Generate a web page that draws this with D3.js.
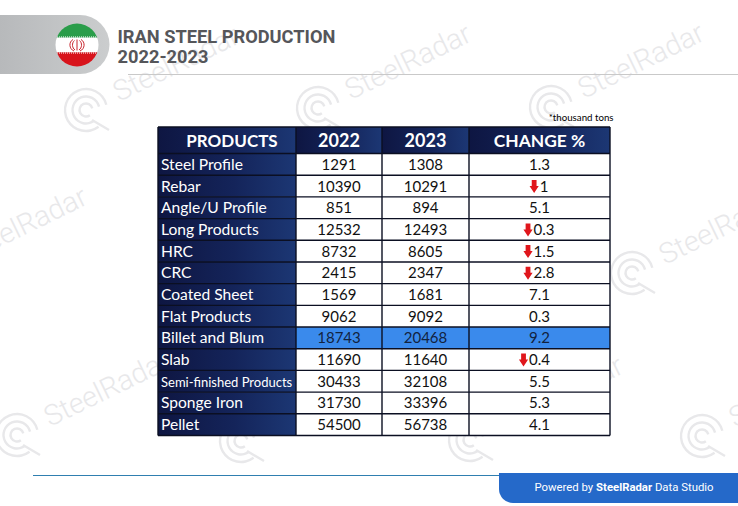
<!DOCTYPE html>
<html>
<head>
<meta charset="utf-8">
<script src="https://d3js.org/d3.v7.min.js"></script>
<style>
  html, body { margin: 0; padding: 0; background: #fff; }
  svg { display: block; }
</style>
</head>
<body>
<svg id="chart" width="738" height="506"></svg>
<script>
  var columns = ["PRODUCTS", "2022", "2023", "CHANGE %"];
  var products = ["Steel Profile", "Rebar", "Angle/U Profile", "Long Products", "HRC", "CRC", "Coated Sheet",
    "Flat Products", "Billet and Blum", "Slab", "Semi-finished Products", "Sponge Iron", "Pellet"];
  var values2022 = [1291, 10390, 851, 12532, 8732, 2415, 1569, 9062, 18743, 11690, 30433, 31730, 54500];
  var values2023 = [1308, 10291, 894, 12493, 8605, 2347, 1681, 9092, 20468, 11640, 32108, 33396, 56738];
  var changes = [1.3, -1, 5.1, -0.3, -1.5, -2.8, 7.1, 0.3, 9.2, -0.4, 5.5, 5.3, 4.1];
  var highlighted = "Billet and Blum";

  var svg = d3.select("#chart");
  var defs = svg.append("defs");

  function gradient(id, stops) {
    var g = defs.append("linearGradient").attr("id", id);
    stops.forEach(function(s) {
      g.append("stop").attr("offset", s[0]).attr("stop-color", s[1]);
    });
  }
  gradient("navy", [[0, "#0e1642"], [0.55, "#14245a"], [1, "#1c3774"]]);
  gradient("pill", [[0, "#b7b9bb"], [1, "#cbcdce"]]);

  // watermarks, drawn first so the table sits on top
  var wmColor = "#e8e8ea";
  var marks = [[86, 110], [318, 108], [551, 107], [-66, 271], [632, 273], [17, 435], [241, 441], [470, 440], [702, 436]];
  var wm = svg.append("g").selectAll("g").data(marks).join("g")
    .attr("transform", function(d) { return "translate(" + d[0] + "," + d[1] + ")"; });
  [21, 13.5, 6.5].forEach(function(r) {
    wm.append("path")
      .attr("d", d3.arc().innerRadius(r - 1.2).outerRadius(r + 1.2).startAngle(2.5).endAngle(7.6)())
      .attr("fill", wmColor);
  });
  wm.append("path").attr("d", "M6,10L23,20").attr("stroke", wmColor).attr("stroke-width", 2.4);
  wm.append("text")
    .attr("transform", "translate(33,-8) rotate(-26)")
    .attr("font-family", "Roboto").attr("font-size", 28.5).attr("font-weight", 300)
    .attr("fill", wmColor)
    .text("SteelRadar");

  // header
  svg.append("path")
    .attr("d", "M0,15H80A29.5,29.5 0 0 1 80,74H0Z")
    .attr("fill", "url(#pill)");
  svg.append("line")
    .attr("x1", 128).attr("x2", 738).attr("y1", 74.5).attr("y2", 74.5)
    .attr("stroke", "#c9c9c9");

  var flagColors = ["#2a9d4a", "#ffffff", "#d8141c"];
  defs.append("clipPath").attr("id", "flagClip")
    .append("circle").attr("cx", 77).attr("cy", 45).attr("r", 21.5);
  var flagY = d3.scaleBand().domain(flagColors).range([23, 67]);
  var flag = svg.append("g").attr("clip-path", "url(#flagClip)");
  flag.selectAll("rect").data(flagColors).join("rect")
    .attr("x", 55).attr("width", 44)
    .attr("y", function(d) { return flagY(d); })
    .attr("height", flagY.bandwidth())
    .attr("fill", function(d) { return d; });
  flag.selectAll("line").data([flagY(flagColors[1]) - 0.7, flagY(flagColors[2]) + 0.7]).join("line")
    .attr("x1", 55).attr("x2", 99)
    .attr("y1", function(d) { return d; }).attr("y2", function(d) { return d; })
    .attr("stroke", "#fff").attr("stroke-width", 1).attr("stroke-dasharray", "1 1");
  // emblem
  svg.append("path")
    .attr("d", "M77,39.5V50.5M74.5,40.5C71.5,43 72,48 75,50M79.5,40.5C82.5,43 82,48 79,50M73,39.5C68.5,42 69,49 74,51M81,39.5C85.5,42 85,49 80,51")
    .attr("fill", "none").attr("stroke", "#c8242c").attr("stroke-width", 1);

  var title = svg.append("text").attr("font-family", "Roboto").attr("font-weight", 700)
    .attr("font-size", 18.25).attr("fill", "#55565a");
  title.append("tspan").attr("x", 117.5).attr("y", 43).text("IRAN STEEL PRODUCTION");
  title.append("tspan").attr("x", 117.5).attr("y", 63).text("2022-2023");

  svg.append("text")
    .attr("x", 613.5).attr("y", 120.5).attr("text-anchor", "end")
    .attr("font-family", "Lato").attr("font-size", 9.7).attr("fill", "#000")
    .text("*thousand tons");

  // table
  var xEdges = [158, 296, 382, 469, 610];
  var x = d3.scaleOrdinal().domain(columns).range(xEdges);
  var y = d3.scaleBand().domain(products).range([153.5, 435.5]);
  var headerTop = 127;

  function centre(i) { return (xEdges[i] + xEdges[i + 1]) / 2; }

  columns.forEach(function(c, i) {
    svg.append("rect")
      .attr("x", x(c)).attr("y", headerTop)
      .attr("width", xEdges[i + 1] - xEdges[i]).attr("height", y.range()[0] - headerTop)
      .attr("fill", "url(#navy)");
    svg.append("text")
      .attr("x", i === 0 ? centre(i) + 5 : centre(i)).attr("y", 146.5).attr("text-anchor", "middle")
      .attr("font-family", "Lato").attr("font-weight", 700).attr("fill", "#fff")
      .attr("font-size", i === 0 ? 17 : i === 3 ? 17.4 : 18)
      .text(c);
  });

  var rows = svg.append("g").selectAll("g").data(products).join("g")
    .attr("transform", function(d) { return "translate(0," + y(d) + ")"; });

  rows.append("rect")
    .attr("x", xEdges[0]).attr("width", xEdges[1] - xEdges[0]).attr("height", y.bandwidth())
    .attr("fill", "url(#navy)");
  rows.append("rect")
    .attr("x", xEdges[1]).attr("width", xEdges[4] - xEdges[1]).attr("height", y.bandwidth())
    .attr("fill", function(d) { return d === highlighted ? "#3a8aec" : "#fff"; });

  rows.append("text")
    .attr("x", 161).attr("y", y.bandwidth() / 2 + 5.5)
    .attr("font-family", "Lato").attr("fill", "#fff")
    .attr("font-size", function(d) { return d.length > 16 ? 13 : 15.6; })
    .text(function(d) { return d; });

  var textStyle = function(sel) {
    sel.attr("y", y.bandwidth() / 2 + 5.5).attr("text-anchor", "middle")
      .attr("font-family", "Lato").attr("font-size", 15)
      .attr("fill", function(d) { return d === highlighted ? "#12233f" : "#111"; });
  };
  rows.append("text").attr("x", centre(1)).call(textStyle)
    .text(function(d, i) { return values2022[i]; });
  rows.append("text").attr("x", centre(2)).call(textStyle)
    .text(function(d, i) { return values2023[i]; });

  // falling rows sit a little right of centre to make room for the arrow, Slab does not
  function changeX(d, i) {
    return centre(3) + (changes[i] < 0 && d !== "Slab" ? 4.5 : 0);
  }
  var changeText = rows.append("text").attr("x", changeX).call(textStyle)
    .text(function(d, i) { return Math.abs(changes[i]); });

  changeText.each(function(d, i) {
    if (changes[i] >= 0) return;
    var half = this.getComputedTextLength() / 2;
    d3.select(this.parentNode).append("path")
      .attr("transform", "translate(" + (changeX(d, i) - half - 5.5) + "," + (y.bandwidth() / 2 + 0.5) + ")")
      .attr("d", "M-2.4,-6.5H2.4V-0.5H4.6L0,6.5L-4.6,-0.5H-2.4Z")
      .attr("fill", "#e0161c");
  });

  // grid lines
  var grid = svg.append("g").attr("stroke", "#0b0f22").attr("stroke-width", 1.4);
  xEdges.forEach(function(e) {
    grid.append("line").attr("x1", e).attr("x2", e).attr("y1", headerTop).attr("y2", y.range()[1]);
  });
  [headerTop].concat(products.map(function(d) { return y(d); }), [y.range()[1]]).forEach(function(t) {
    grid.append("line").attr("x1", xEdges[0]).attr("x2", xEdges[4]).attr("y1", t).attr("y2", t);
  });

  // footer
  svg.append("line")
    .attr("x1", 33).attr("x2", 505).attr("y1", 475.5).attr("y2", 475.5)
    .attr("stroke", "#2f7fb0");
  svg.append("path")
    .attr("d", "M499,473H738V503H513A14,14 0 0 1 499,489Z")
    .attr("fill", "#2569c9");
  var foot = svg.append("text").attr("x", 534.5).attr("y", 491)
    .attr("font-family", "Roboto").attr("font-size", 11.35).attr("fill", "#fff");
  foot.append("tspan").text("Powered by ");
  foot.append("tspan").attr("font-weight", 700).text("SteelRadar");
  foot.append("tspan").text(" Data Studio");
</script>
</body>
</html>
